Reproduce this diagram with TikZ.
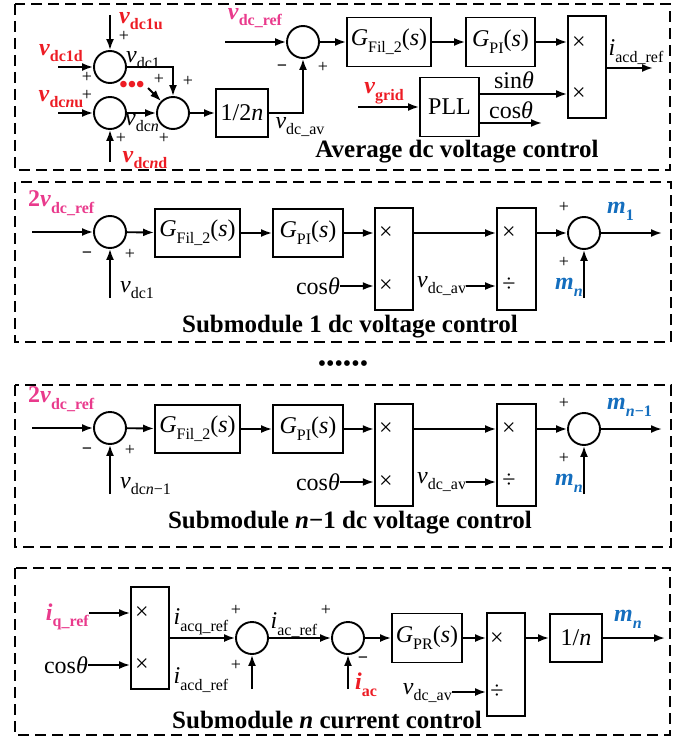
\documentclass[tikz,border=0pt]{standalone}
\usepackage{fontspec}
\setmainfont{Liberation Serif}
\usetikzlibrary{arrows.meta}
\definecolor{cred}{RGB}{237,28,36}
\definecolor{cpink}{RGB}{233,58,140}
\definecolor{cblue}{RGB}{20,110,190}
\newcommand\subs[1]{\raisebox{-0.28em}{\fontsize{16}{16}\selectfont #1}}
\newcommand\dcpanel[5]{%
\begin{scope}[shift={(0,#2)}]
\node[sumc] (#1s) at (110,232) {};
\node[blk,minimum width=85pt,minimum height=48pt] (#1gf) at (197.5,233) {\textit{G}\subs{Fil\_2}(\textit{s})};
\node[blk,minimum width=70pt,minimum height=48pt] (#1gp) at (308,233) {\textit{G}\subs{PI}(\textit{s})};
\node[blk,minimum width=38.5pt,minimum height=102pt] (#1mu) at (394,259) {};
\node (#1mua) at (386,233) {×};
\node (#1mub) at (386,286) {×};
\node[blk,minimum width=39pt,minimum height=102pt] (#1dv) at (516.5,259) {};
\node (#1dva) at (509,233) {×};
\node (#1dvb) at (509,285) {÷};
\node[sumc] (#1t) at (584,233) {};
\coordinate (#1in) at (32,232);
\coordinate (#1up) at (110,298);
\coordinate (#1mn) at (584,298);
\coordinate (#1out) at (662,233);
\node[pk,anchor=west] (#1ref) at (28,203) {2\textit{v}\subs{dc\_ref}};
\node[pl] (#1m) at (87,254) {\textbf{−}};
\node[pl] (#1p) at (130,255) {+};
\node[anchor=west] (#1vl) at (120,290) {#3};
\node[anchor=east] (#1cos) at (340,286) {cos\textit{θ}};
\node[anchor=west] (#1av) at (417,286) {\textit{v}\subs{dc\_av}};
\node[pl] (#1p1) at (564,208) {+};
\node[pl] (#1p2) at (564,263) {+};
\node[bl,anchor=east] (#1mnl) at (583,287) {\textit{m}\subs{\textit{n}}};
\node[bl,anchor=west] (#1ml) at (607,211) {#4};
\node[ttl] (#1ttl) at (350,327) {#5};
\draw[arr] (#1in) -- (#1s);
\draw[arr] (#1up) -- (#1s);
\draw[arr] (#1s) -- (#1gf);
\draw[arr] (#1gf) -- (#1gp);
\draw[arr] (#1gp.east) -- (#1gp.east -| #1mu.west);
\draw[arr] (#1cos.east) -- (#1cos.east -| #1mu.west);
\draw[arr] (#1mu.east |- #1gp.east) -- (#1gp.east -| #1dv.west);
\draw[arr] (#1av.east) -- (#1av.east -| #1dv.west);
\draw[arr] (#1dv.east |- #1t) -- (#1t);
\draw[arr] (#1mn) -- (#1t);
\draw[arr] (#1t) -- (#1out);
\end{scope}}
\begin{document}
\begin{tikzpicture}[x=1pt,y=-1pt,
  every node/.style={font=\fontsize{24}{28}\selectfont, inner sep=0pt},
  sumc/.style={circle,draw,line width=1.9pt,minimum size=32pt},
  blk/.style={draw,line width=1.9pt},
  arr/.style={-{Latex[length=11pt,width=8pt]},line width=1.9pt},
  panel/.style={line width=1.5pt,dash pattern=on 11pt off 6pt},
  pl/.style={font=\fontsize{18}{18}\selectfont,text height=9.5pt,text depth=0pt},
  ttl/.style={font=\fontsize{25}{30}\selectfont\bfseries},
  rl/.style={text=cred,font=\fontsize{24}{28}\selectfont\bfseries},
  pk/.style={text=cpink,font=\fontsize{24}{28}\selectfont\bfseries},
  bl/.style={text=cblue,font=\fontsize{24}{28}\selectfont\bfseries}]
\useasboundingbox (0,0) rectangle (698,738);
% panels
\draw[panel] (15,4) rectangle (670,170);
\draw[panel] (15,182) rectangle (671,342);
\draw[panel] (15,385) rectangle (671,547);
\draw[panel] (15,568) rectangle (670,735);
% ===== panel 1
\node[sumc] (A) at (110,67) {};
\node[sumc] (B) at (110,113) {};
\node[sumc] (C) at (173,113) {};
\node[sumc] (D) at (303,42) {};
\node[blk,minimum width=52pt,minimum height=48pt] (half) at (242,113) {1/2\textit{n}};
\node[blk,minimum width=84pt,minimum height=49pt] (gf1) at (389,42) {\textit{G}\subs{Fil\_2}(\textit{s})};
\node[blk,minimum width=69pt,minimum height=49pt] (gp1) at (500.5,42) {\textit{G}\subs{PI}(\textit{s})};
\node[blk,minimum width=38pt,minimum height=102pt] (mu1) at (587,67) {};
\node (mu1a) at (579,43) {×};
\node (mu1b) at (579,94) {×};
\node[blk,minimum width=59pt,minimum height=59pt] (pll) at (449.5,107) {PLL};
\coordinate (iA) at (58,67);
\coordinate (iAu) at (110,15);
\coordinate (iB) at (58,113);
\coordinate (iBd) at (110,162);
\coordinate (iC) at (148,88);
\coordinate (iD) at (225,42);
\coordinate (ig) at (358,107);
\coordinate (o1) at (653,68);
\coordinate (oc) at (542,123);
\draw[arr] (iA) -- (A);
\draw[arr] (iAu) -- (A);
\draw[arr] (iB) -- (B);
\draw[arr] (iBd) -- (B);
\draw[arr] (A.east) -| (C.north);
\draw[arr] (B) -- (C);
\draw[arr] (iC) -- (C);
\draw[arr] (C) -- (half);
\draw[arr] (half.east) -| (D.south);
\draw[arr] (iD) -- (D);
\draw[arr] (D) -- (gf1);
\draw[arr] (gf1) -- (gp1);
\draw[arr] (gp1.east) -- (gp1.east -| mu1.west);
\draw[arr] (ig) -- (pll);
\draw[arr] ([yshift=13pt]pll.east) -- ([yshift=13pt]pll.east -| mu1.west);
\draw[arr] ([yshift=-16pt]pll.east) -- (oc);
\draw[arr] (mu1.east |- o1) -- (o1);
\node[rl] (l1u) at (141,21) {\textit{v}\subs{dc1u}};
\node[pl] (p1) at (124,37) {+};
\node (l1) at (143,60) {\textit{v}\subs{dc1}};
\node[rl] (l1d) at (61,53) {\textit{v}\subs{dc1d}};
\node[pl] (p2) at (87,78) {+};
\node[pl] (p3) at (87,96) {+};
\node[rl] (lnu) at (61,99) {\textit{v}\subs{dc\textit{n}u}};
\node (ln) at (142,123) {\textit{v}\subs{dc\textit{n}}};
\node[pl] (p4) at (121,139) {+};
\node[rl] (lnd) at (145,160) {\textit{v}\subs{dc\textit{n}d}};
\node[pl] (p5) at (164,139) {+};
\node[rl] (dots) at (132,87) {•••};
\node[pl] (p6) at (159,80) {+};
\node[pl] (p7) at (188,82) {+};
\node (lav) at (300,127) {\textit{v}\subs{dc\_av}};
\node[pl] (p8) at (323,68) {+};
\node[pl] (m8) at (282,67) {\textbf{−}};
\node[pk] (lref) at (255,18) {\textit{v}\subs{dc\_ref}};
\node (lacd) at (636,52) {\textit{i}\subs{acd\_ref}};
\node[rl] (lgrid) at (384,93) {\textit{v}\subs{grid}};
\node (lsin) at (514,80) {sin\textit{θ}};
\node (lcos) at (511,110) {cos\textit{θ}};
\node[ttl] (t1) at (457,152) {Average dc voltage control};
% ===== panels 2 and 3
\dcpanel{a}{0}{\textit{v}\subs{dc1}}{\textit{m}\subs{1}}{Submodule 1 dc voltage control}
\dcpanel{b}{196}{\textit{v}\subs{dc\textit{n}−1}}{\textit{m}\subs{\textit{n}−1}}{Submodule \textit{n}−1 dc voltage control}
\node (vdots) at (343,366) {••••••};
% ===== panel 4
\node[blk,minimum width=38pt,minimum height=102pt] (mu4) at (150,638) {};
\node (mu4a) at (142,613) {×};
\node (mu4b) at (142,665) {×};
\node[pk,anchor=east] (liq) at (89,617) {\textit{i}\subs{q\_ref}};
\node[anchor=east] (lcos4) at (88,665) {cos\textit{θ}};
\node[sumc] (E) at (252,638) {};
\node[sumc] (F) at (348,638) {};
\node[blk,minimum width=70pt,minimum height=49pt] (gpr) at (427,638) {\textit{G}\subs{PR}(\textit{s})};
\node[blk,minimum width=38pt,minimum height=103pt] (dv4) at (506,664.5) {};
\node (dv4a) at (497,639) {×};
\node (dv4b) at (497,692) {÷};
\node[blk,minimum width=52pt,minimum height=48pt] (onen) at (576,638) {1/\textit{n}};
\coordinate (eup) at (252,689);
\coordinate (fup) at (348,689);
\coordinate (o4) at (665,638);
\node (lacq) at (201,622) {\textit{i}\subs{acq\_ref}};
\node[pl] (p41) at (236,611) {+};
\node (lacd4) at (201,680) {\textit{i}\subs{acd\_ref}};
\node[pl] (p42) at (236,666) {+};
\node (lacr) at (294,625) {\textit{i}\subs{ac\_ref}};
\node[pl] (p43) at (326,611) {+};
\node[rl] (liac) at (366,685) {\textit{i}\subs{ac}};
\node[pl] (m44) at (363,659) {\textbf{−}};
\node[anchor=east] (lav4) at (452,693) {\textit{v}\subs{dc\_av}};
\node[bl] (lmn4) at (628,619) {\textit{m}\subs{\textit{n}}};
\node[ttl] (t4) at (327,720) {Submodule \textit{n} current control};
\draw[arr] (liq.east |- mu4a) -- (mu4a -| mu4.west);
\draw[arr] (lcos4.east |- mu4b) -- (mu4b -| mu4.west);
\draw[arr] (mu4.east |- E) -- (E);
\draw[arr] (eup) -- (E);
\draw[arr] (E) -- (F);
\draw[arr] (fup) -- (F);
\draw[arr] (F) -- (gpr);
\draw[arr] (gpr.east) -- (gpr.east -| dv4.west);
\draw[arr] (lav4.east |- dv4b) -- (dv4b -| dv4.west);
\draw[arr] (dv4.east |- onen) -- (onen);
\draw[arr] (onen) -- (o4);
\end{tikzpicture}
\end{document}
